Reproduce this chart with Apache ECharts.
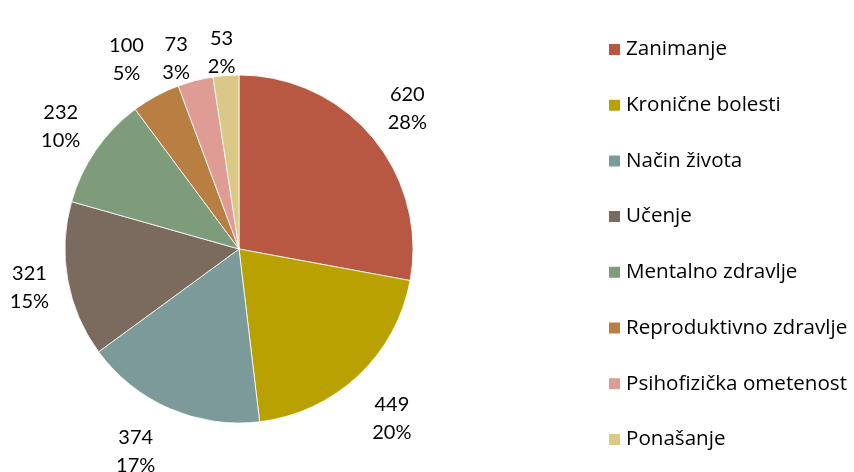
<!DOCTYPE html>
<html><head><meta charset="utf-8">
<script src="https://cdn.jsdelivr.net/npm/echarts@6/dist/echarts.min.js"></script>
<style>html,body{margin:0;padding:0;background:#fff}#c{width:854px;height:472px}</style>
</head><body><div id="c"></div>
<script>
const categories = ["Zanimanje","Kronične bolesti","Način života","Učenje","Mentalno zdravlje","Reproduktivno zdravlje","Psihofizička ometenost","Ponašanje"];
const values = [620,449,374,321,232,100,73,53];
const colors = ["#B85843","#B8A100","#7C9A9A","#7B6B5F","#7E9C7B","#B87E42","#DF9C95","#D9C886"];
// label nudges (px) to mimic the original's best-fit label placement
const labelOffsets = [[0,0],[3,10],[-16,2],[6,0],[2,2],[-8,3],[-8,22],[-1,22]];

const data = categories.map((n,i)=>({name:n,value:values[i]}));
const labelData = categories.map((n,i)=>({name:n,value:values[i],label:{offset:labelOffsets[i]}}));
const font = "Lato, 'Open Sans', sans-serif";
const chart = echarts.init(document.getElementById('c'));
chart.setOption({
  animation:false,
  color: colors,
  legend:{
    orient:'vertical', left:602, top:33,
    itemWidth:13, itemHeight:13, itemGap:32.7, icon:'rect',
    data: categories,
    textStyle:{fontFamily:"'Open Sans', sans-serif", fontSize:20.6, color:'#000', lineHeight:23}
  },
  series:[
    {
      type:'pie', center:[239,249], radius:[0,174], startAngle:90, clockwise:true,
      data:data, label:{show:false}, labelLine:{show:false},
      itemStyle:{borderColor:'#fff', borderWidth:0.8},
      emphasis:{disabled:true}, percentPrecision:0
    },
    {
      type:'pie', center:[239,249], radius:[174,258], startAngle:90, clockwise:true,
      data:labelData, silent:true, percentPrecision:0,
      itemStyle:{color:'rgba(0,0,0,0)'},
      labelLine:{show:false},
      label:{show:true, position:'inside', formatter:'{c}\n{d}%', color:'#000',
        fontFamily:font, fontSize:20, lineHeight:28, align:'center'},
      emphasis:{disabled:true}
    }
  ]
});
</script></body></html>
